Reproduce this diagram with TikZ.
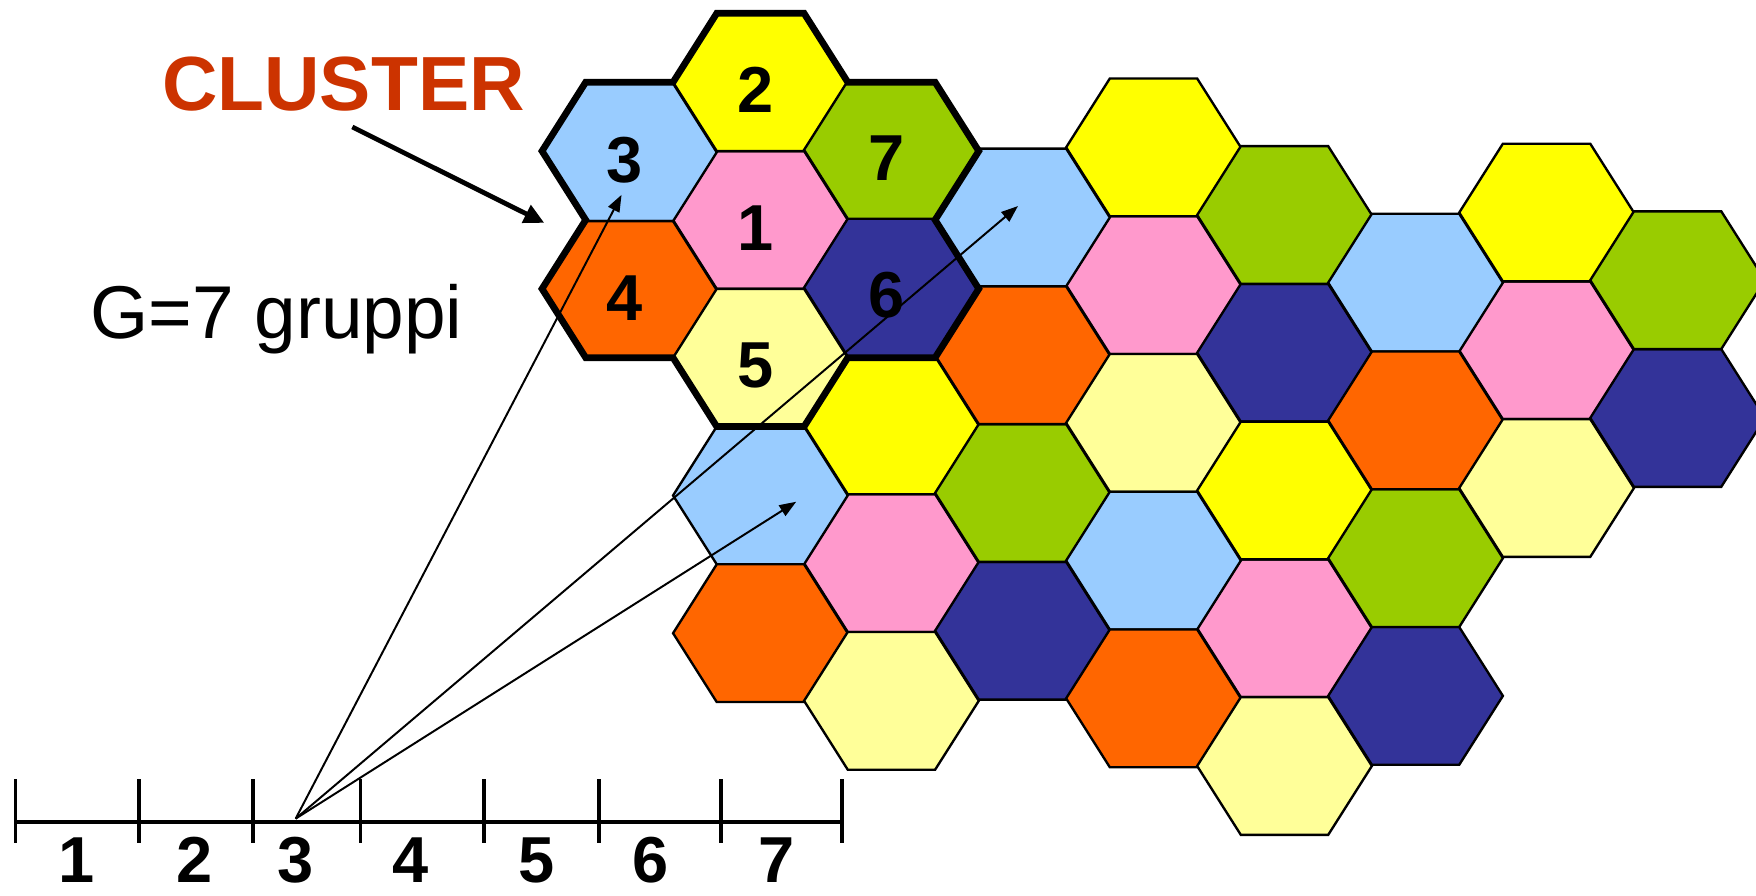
\documentclass[tikz,border=0pt]{standalone}
\usepackage{fontspec}
\setmainfont{Liberation Sans}
\usetikzlibrary{arrows.meta}

\definecolor{cpink}{HTML}{FF99CC}
\definecolor{cyellow}{HTML}{FFFF00}
\definecolor{cblue}{HTML}{99CCFF}
\definecolor{corange}{HTML}{FF6600}
\definecolor{cpale}{HTML}{FFFF99}
\definecolor{cnavy}{HTML}{333399}
\definecolor{cgreen}{HTML}{99CC00}
\definecolor{cred}{HTML}{CC3300}

\begin{document}
\begin{tikzpicture}[
    x=0.01cm, y=-0.01cm,
    cell/.style={draw, line width=0.6pt, line join=miter},
    clusterline/.style={draw, line width=1.7pt, line join=miter},
    num/.style={font=\fontsize{16.5}{16.5}\selectfont\bfseries, inner sep=0pt},
    bigtext/.style={font=\fontsize{19}{19}\selectfont, inner sep=0pt, anchor=base west},
    pointer/.style={-{Triangle[length=0.18cm, width=0.17cm]}, line width=1.2pt},
    reuse/.style={-{Triangle[length=0.15cm, width=0.11cm]}, line width=0.5pt},
    tick/.style={line width=0.9pt}
]
    \useasboundingbox (0,0) rectangle (1568,800);
    \clip (0,0) rectangle (1568,800);

    % Cells: five clusters of seven
    \foreach \cc/\cr in {1/1, 2/6, 4/2, 5/7, 7/3}
      \foreach \dc/\dr/\fc in {0/0/cpink, 0/-2/cyellow, -1/-1/cblue, -1/1/corange, 0/2/cpale, 1/1/cnavy, 1/-1/cgreen}
      {
        \pgfmathsetmacro{\hx}{562+117*(\cc+\dc)}
        \pgfmathsetmacro{\hy}{136+61.5*(\cr+\dr)-1.1*(\cc+\dc)}
        \filldraw[cell, fill=\fc, shift={(\hx,\hy)}] (-78,0) -- (-39,-61.5) -- (39,-61.5) -- (78,0) -- (39,61.5) -- (-39,61.5) -- cycle;
      }

    % First cluster
    \draw[clusterline, shift={(679,196.4)}] (-39,-184.5) -- (39,-184.5) -- (78,-123) -- (156,-123) -- (195,-61.5) -- (156,0) -- (195,61.5) -- (156,123) -- (78,123) -- (39,184.5) -- (-39,184.5) -- (-78,123) -- (-156,123) -- (-195,61.5) -- (-156,0) -- (-195,-61.5) -- (-156,-123) -- (-78,-123) -- cycle;
    \foreach \n/\dc/\dr in {1/0/0, 2/0/-2, 3/-1/-1, 4/-1/1, 5/0/2, 6/1/1, 7/1/-1}
      \node[num] (g\n) at ({675+117*\dc}, {203.4+61.5*\dr-1.1*\dc}) {\n};

    % Labels
    \node[bigtext, font=\fontsize{19.5}{19.5}\selectfont\bfseries, text=cred] (clus) at (144,99) {CLUSTER};
    \node[bigtext] (grp) at (80,302) {G=7 gruppi};
    \coordinate (ctip) at (486,199);
    \draw[pointer] ([shift={(8,13)}]clus.south) -- (ctip);

    % Time axis
    \coordinate (ax0) at (14,734);
    \coordinate (ax1) at (751,734);
    \draw[line width=1pt] (ax0) -- (ax1);
    \foreach \x in {14,124,226,322,432,535,644,752}
      \draw[tick] (\x,696) -- (\x,753);
    \foreach \n/\x in {1/68, 2/174, 3/264, 4/367, 5/479, 6/581, 7/693}
      \node[num, anchor=base] (s\n) at (\x,788) {\n};

    % Slot 3 reused in group 3 cells
    \coordinate (slot) at (264,731);
    \coordinate (r1) at (555,174);
    \coordinate (r2) at (909,184);
    \coordinate (r3) at (711,448);
    \foreach \t in {r1,r2,r3}
      \draw[reuse] (slot) -- (\t);
\end{tikzpicture}
\end{document}
